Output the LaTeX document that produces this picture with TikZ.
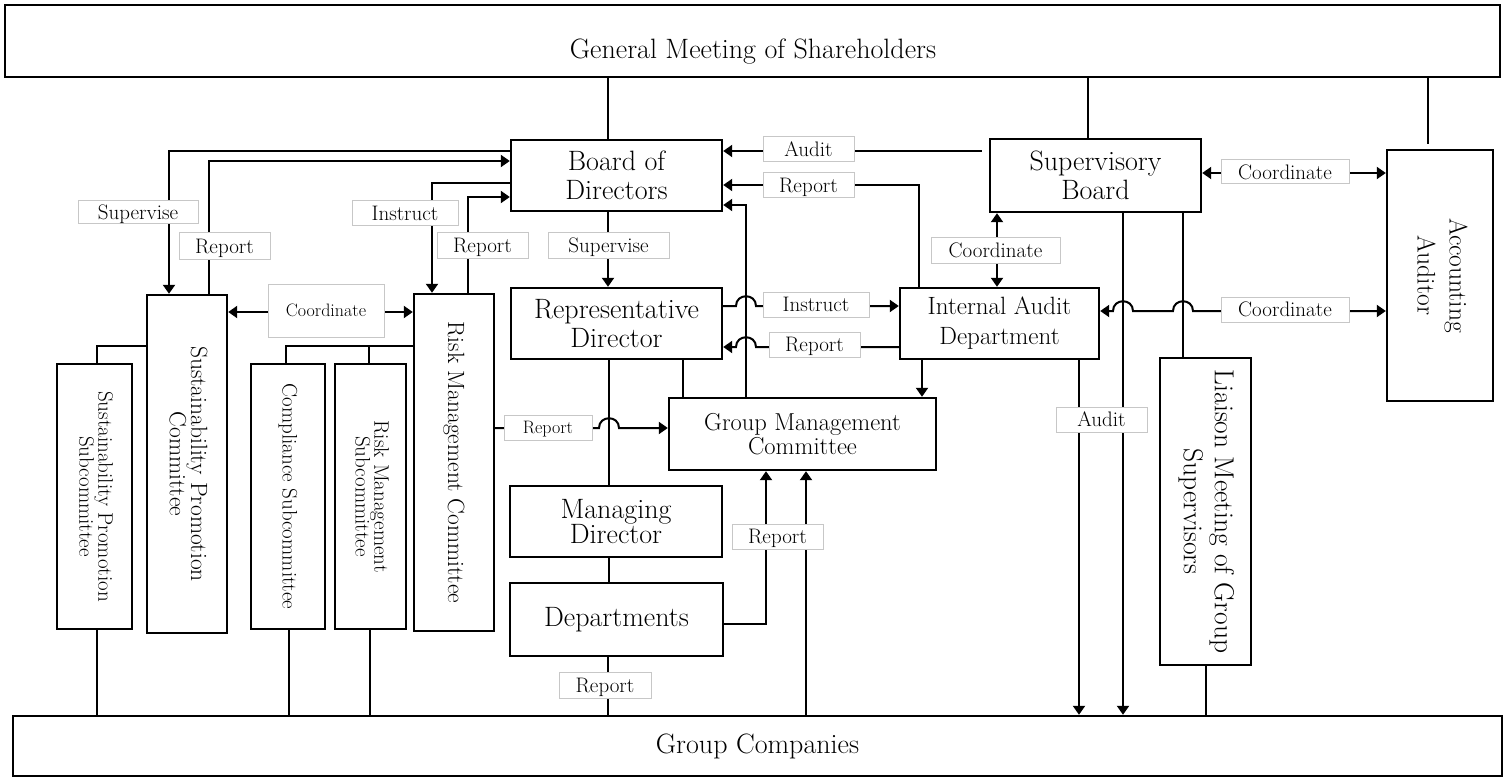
\documentclass[tikz,border=0pt]{standalone}
\usepackage{fontspec}
\usetikzlibrary{arrows.meta}
\newcommand{\vtext}[1]{\rotatebox{-90}{\begin{tabular}{@{}c@{}}#1\end{tabular}}}
\begin{document}
\begin{tikzpicture}[x=1pt,y=-1pt,
  box/.style={draw, line width=2.4pt, inner sep=0pt, align=center, font=\fontsize{28}{29}\selectfont},
  lab/.style={draw=black!22, line width=1pt, fill=white, inner sep=0pt,
              minimum width=91, minimum height=25, text height=18.3pt, text depth=4pt,
              font=\fontsize{21}{24}\selectfont},
  smalllab/.style={lab, text height=15.8pt, text depth=3.5pt, font=\fontsize{18}{21}\selectfont},
  conn/.style={line width=2pt},
  >={Triangle[length=9pt,width=12pt]},
]
\useasboundingbox (0,0) rectangle (1507,778);
\fill[white] (0,0) rectangle (1507,778);

% ---------- boxes ----------
\node[box, minimum width=1495, minimum height=72] (gm) at (752.5,41) {};
\node[font=\fontsize{28}{29}\selectfont, anchor=base] (gmtext) at (753,59) {General Meeting of Shareholders};
\node[box, minimum width=211, minimum height=71] (bod) at (616.5,175.5) {Board of\\Directors};
\node[box, minimum width=211, minimum height=73] (sb) at (1095.5,175.5) {Supervisory\\Board};
\node[box, minimum width=106, minimum height=251, font=\fontsize{25.5}{32}\selectfont] (aud) at (1440,275.5) {\vtext{Accounting\\Auditor}};
\node[box, minimum width=211, minimum height=71] (rd) at (616.5,323.5) {Representative\\Director};
\node[box, minimum width=199, minimum height=71, font=\fontsize{25}{30}\selectfont] (iad) at (999.5,323.5) {Internal Audit\\Department};
\node[box, minimum width=267, minimum height=72, font=\fontsize{24.5}{24}\selectfont] (gmc) at (802.5,434) {Group Management\\Committee};
\node[box, minimum width=212, minimum height=71, font=\fontsize{28}{25.5}\selectfont] (md) at (616,521.5) {Managing\\Director};
\node[box, minimum width=213, minimum height=73] (dep) at (616.5,619.5) {Departments};
\node[box, minimum width=1489, minimum height=60] (gc) at (757.5,746) {Group Companies};
\node[box, minimum width=80, minimum height=338, font=\fontsize{23.5}{12}\selectfont] (spc) at (187,464) {\vtext{Sustainability Promotion\\Committee}};
\node[box, minimum width=75, minimum height=265, font=\fontsize{21}{12}\selectfont] (sps) at (94.5,496.5) {\vtext{Sustainability Promotion\\Subcommittee}};
\node[box, minimum width=74, minimum height=265, font=\fontsize{21}{12}\selectfont] (cs) at (288,496.5) {\vtext{Compliance Subcommittee}};
\node[box, minimum width=71, minimum height=265, font=\fontsize{21}{12}\selectfont] (rms) at (370.5,496.5) {\vtext{Risk Management\\Subcommittee}};
\node[box, minimum width=80, minimum height=337, font=\fontsize{23.5}{12}\selectfont] (rmc) at (454,462.5) {\vtext{Risk Management Committee}};
\node[box, minimum width=91, minimum height=307, font=\fontsize{27.5}{31}\selectfont] (lia) at (1205.5,511.5) {\vtext{Liaison Meeting of Group\\Supervisors}};

% ---------- connectors ----------
\draw[conn] (gm.south -| 608,0) -- (bod.north -| 608,0);
\draw[conn] (gm.south -| 1088,0) -- (sb.north -| 1088,0);
\draw[conn, shorten >=5pt] (gm.south -| 1428,0) -- (aud.north -| 1428,0);

% left of board
\draw[conn,->] (bod.west |- 0,151) -| (spc.north -| 169,0);
\draw[conn,->] (spc.north -| 209,0) |- (bod.west |- 0,161);
\draw[conn,->] (bod.west |- 0,183) -| (rmc.north -| 432,0);
\draw[conn,->] (rmc.north -| 468,0) |- (bod.west |- 0,197);
\draw[conn,<->] (spc.east |- 0,312) -- (rmc.west |- 0,312);

% subcommittees
\draw[conn] (sps.north -| 97,0) |- (spc.west |- 0,346);
\draw[conn] (sps.south -| 97,0) -- (gc.north -| 97,0);
\draw[conn] (cs.north -| 286,0) |- (rmc.west |- 0,346);
\draw[conn] (rms.north -| 369,0) -- ++(0,-18);
\draw[conn] (cs.south -| 289,0) -- (gc.north -| 289,0);
\draw[conn] (rms.south -| 370,0) -- (gc.north -| 370,0);

% risk management committee -> group management committee
\draw[conn,->] (rmc.east |- 0,428) -- (599,428) .. controls (599,415) and (619,415) .. (619,428) -- (gmc.west |- 0,428);

% right of board
\draw[conn,->, shorten <=7pt] (sb.west |- 0,151) -- (bod.east |- 0,151);
\draw[conn,->] (iad.north -| 919,0) |- (bod.east |- 0,185);
\draw[conn,->] (gmc.north -| 746,0) |- (bod.east |- 0,205);
\draw[conn,->] (bod.south -| 608,0) -- (rd.north -| 608,0);
\draw[conn,->] (rd.east |- 0,306) -- (736,306) .. controls (736,293) and (756,293) .. (756,306) -- (iad.west |- 0,306);
\draw[conn,->] (iad.west |- 0,347) -- (756,347) .. controls (756,334) and (736,334) .. (736,347) -- (rd.east |- 0,347);

% executive line
\draw[conn] (rd.south -| 609,0) -- (md.north -| 609,0);
\draw[conn] (rd.south -| 683,0) -- (gmc.north -| 683,0);
\draw[conn] (md.south -| 609,0) -- (dep.north -| 609,0);
\draw[conn] (dep.south -| 608,0) -- (gc.north -| 608,0);
\draw[conn,->] (dep.east |- 0,624) -| (gmc.south -| 766,0);
\draw[conn,->] (gc.north -| 806,0) -- (gmc.south -| 806,0);
\draw[conn,->] (iad.south -| 922,0) -- (gmc.north -| 922,0);

% supervisory side
\draw[conn,<->] (sb.south -| 997,0) -- (iad.north -| 997,0);
\draw[conn,<->] (sb.east |- 0,173) -- (aud.west |- 0,173);
\draw[conn,<->] (iad.east |- 0,311) -- (1113,311) .. controls (1113,298) and (1133,298) .. (1133,311)
   -- (1173,311) .. controls (1173,298) and (1193,298) .. (1193,311) -- (aud.west |- 0,311);
\draw[conn,->] (sb.south -| 1123,0) -- (gc.north -| 1123,0);
\draw[conn] (sb.south -| 1183,0) -- (lia.north -| 1183,0);
\draw[conn,->] (iad.south -| 1079,0) -- (gc.north -| 1079,0);
\draw[conn] (lia.south -| 1206,0) -- (gc.north -| 1206,0);

% ---------- labels ----------
\node[lab, minimum width=120, minimum height=23] (l1) at (138,212.5) {Supervise};
\node[lab, minimum height=26] (l2) at (224.5,246) {Report};
\node[lab, minimum width=106] (l3) at (405,213.5) {Instruct};
\node[lab] (l4) at (482.5,245.5) {Report};
\node[smalllab, minimum width=116, minimum height=53] (l5) at (326,310.5) {Coordinate};
\node[lab, minimum width=121] (l6) at (608.5,245.5) {Supervise};
\node[lab] (l7) at (808.5,149.5) {Audit};
\node[lab] (l8) at (808.5,185.5) {Report};
\node[lab, minimum width=129, minimum height=26] (l9) at (995.5,250) {Coordinate};
\node[lab, minimum width=128, minimum height=24] (l10) at (1285,172) {Coordinate};
\node[lab, minimum width=106] (l11) at (816,304.5) {Instruct};
\node[lab] (l12) at (814.5,344.5) {Report};
\node[lab, minimum width=128] (l13) at (1285,309.5) {Coordinate};
\node[smalllab, minimum width=88] (l14) at (548,427.5) {Report};
\node[lab] (l15) at (1101.5,419.5) {Audit};
\node[lab] (l16) at (777.5,536.5) {Report};
\node[lab, minimum width=92, minimum height=26] (l17) at (605,685) {Report};
\end{tikzpicture}
\end{document}
